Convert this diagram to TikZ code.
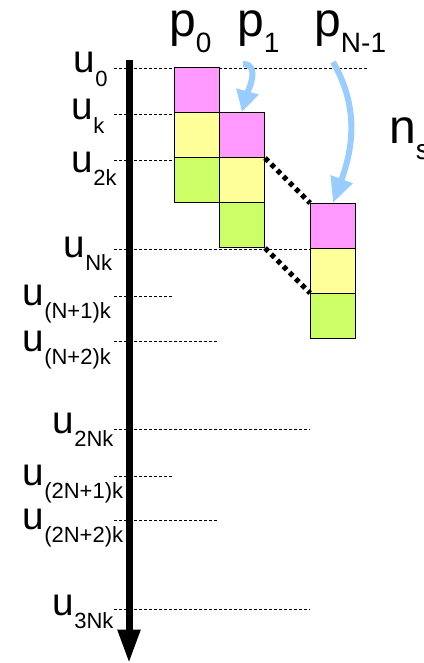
\documentclass[tikz,border=0pt]{standalone}
\usepackage{fontspec}
\setmainfont{Liberation Sans}
\usepackage{tikz}
\usetikzlibrary{arrows.meta, positioning}
\usepackage{xcolor}

\definecolor{rosa}{HTML}{FF99FF}
\definecolor{amarelo}{HTML}{FFFF99}
\definecolor{verde}{HTML}{CCFF66}
\definecolor{azul}{HTML}{99CCFF}

\newcommand{\ulab}[1]{{\fontsize{29}{29}\selectfont u}\raisebox{-10pt}{\fontsize{16.5}{16.5}\selectfont #1}}
\newcommand{\glab}[2]{{\fontsize{36}{36}\selectfont #1}\raisebox{-12pt}{\fontsize{21}{21}\selectfont #2}}

\begin{document}
\begin{tikzpicture}[
		x=0.75pt, y=0.75pt,
		bloco/.style={
			draw,
			line width=0.75pt,
			minimum width=33.75pt,
			minimum height=33.75pt,
			inner sep=0pt
		},
		guia/.style={
			line width=0.75pt,
			dash pattern=on 2.25pt off 1.5pt
		},
		pontos/.style={
			line width=3.75pt,
			dash pattern=on 3.5pt off 3pt
		},
		seta/.style={
			-{Triangle[width=16.5pt,length=16pt]},
			line width=4.5pt,
			color=azul
		},
		rotulo/.style={
			anchor=base west,
			inner sep=0pt
		}
		]
		
		\useasboundingbox (0,0) rectangle (424,-663);
		
		% Linhas de tempo
		\draw[guia] (114,-68.5) -- (369,-68.5);
		\draw[guia] (114,-115) -- (174,-115);
		\draw[guia] (114,-160) -- (174,-160);
		\draw[guia] (114,-249) -- (310,-249);
		\draw[guia] (114,-296) -- (174,-296);
		\draw[guia] (114,-341) -- (219,-341);
		\draw[guia] (114,-429) -- (310,-429);
		\draw[guia] (114,-476) -- (174,-476);
		\draw[guia] (114,-520) -- (219,-520);
		\draw[guia] (114,-609) -- (310,-609);
		
		% Eixo do tempo
		\coordinate (topo) at (129,-60);
		\coordinate (fundo) at (129,-663);
		\draw[line width=5.25pt, -{Triangle[width=16pt,length=25pt]}] (topo) -- (fundo);
		
		% Rotulos do eixo
		\node[rotulo] (u0) at (73.5,-73) {\ulab{0}};
		\node[rotulo] (uk) at (71.5,-120) {\ulab{k}};
		\node[rotulo] (u2k) at (71.5,-172) {\ulab{2k}};
		\node[rotulo] (uNk) at (63.5,-257) {\ulab{Nk}};
		\node[rotulo] (uN1) at (22.5,-305) {\ulab{(N+1)k}};
		\node[rotulo] (uN2) at (22.5,-351) {\ulab{(N+2)k}};
		\node[rotulo] (u2Nk) at (52.5,-433) {\ulab{2Nk}};
		\node[rotulo] (u2N1) at (22.5,-485) {\ulab{(2N+1)k}};
		\node[rotulo] (u2N2) at (22.5,-529) {\ulab{(2N+2)k}};
		\node[rotulo] (u3Nk) at (52.5,-615) {\ulab{3Nk}};
		
		% Processos
		\node[rotulo] (p0) at (169,-37) {\glab{p}{0}};
		\node[rotulo] (p1) at (237,-37) {\glab{p}{1}};
		\node[rotulo] (pN) at (314,-37) {\glab{p}{N-1}};
		\node[rotulo] (ns) at (389,-143) {\glab{n}{s}};
		
		% Blocos de p0
		\node[bloco, fill=rosa] (m0) at (196.5,-90) {};
		\node[bloco, fill=amarelo] (a0) at (196.5,-135) {};
		\node[bloco, fill=verde] (v0) at (196.5,-180) {};
		
		% Blocos de p1
		\node[bloco, fill=rosa] (m1) at (242,-135) {};
		\node[bloco, fill=amarelo] (a1) at (242,-180) {};
		\node[bloco, fill=verde] (v1) at (242,-225) {};
		
		% Blocos de pN-1
		\node[bloco, fill=rosa] (mN) at (333,-226) {};
		\node[bloco, fill=amarelo] (aN) at (333,-271) {};
		\node[bloco, fill=verde] (vN) at (333,-316) {};
		
		% Ligacoes pontilhadas
		\draw[pontos] (m1.south east) -- (mN.north west);
		\draw[pontos] (v1.south east) -- (vN.north west);
		
		% Setas azuis
		\coordinate (ini1) at (243,-64);
		\coordinate (iniN) at (333,-62);
		\draw[seta] (ini1) to[out=0,in=75] (m1.north);
		\draw[seta, -{Triangle[width=16.5pt,length=19pt]}] (iniN) to[out=-60,in=70] (mN.north);
		
	\end{tikzpicture}
\end{document}
